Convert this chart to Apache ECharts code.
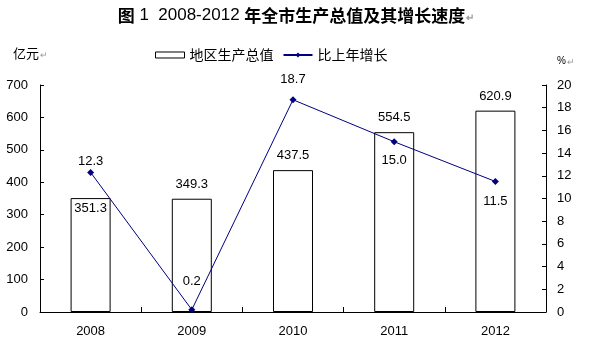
<!DOCTYPE html>
<html>
<head>
<meta charset="utf-8">
<script src="https://cdn.jsdelivr.net/npm/echarts@6/dist/echarts.min.js"></script>
<style>
  html, body { margin: 0; padding: 0; background: #fff; }
  #chart { width: 592px; height: 350px; }
</style>
</head>
<body>
<div id="chart"></div>
<script>
// Years on the category axis
const years = ['2008', '2009', '2010', '2011', '2012'];
// Regional GDP, 100 million yuan
const gdp = [351.3, 349.3, 437.5, 554.5, 620.9];
// Growth over previous year, %
const growth = [12.3, 0.2, 18.7, 15.0, 11.5];
// Value-axis ranges
const gdpAxis = { min: 0, max: 700, interval: 100 };
const growthAxis = { min: 0, max: 20, interval: 2 };

const NUM_FONT = '"Liberation Sans", Arial, sans-serif';
const CJK_FONT = '"Noto Sans CJK SC", sans-serif';
const NAVY = '#000080';

// Label placement for each bar / point
const barLabelPlace = [
  { position: 'insideTop', distance: 4 },
  { position: 'top', distance: 8 },
  { position: 'top', distance: 8 },
  { position: 'top', distance: 8 },
  { position: 'top', distance: 8 }
];
const lineLabelPlace = [
  { position: 'top', distance: 1 },
  { position: 'top', distance: 18 },
  { position: 'top', distance: 10 },
  { position: 'bottom', distance: 9 },
  { position: 'bottom', distance: 10 }
];

const chart = echarts.init(document.getElementById('chart'), null, { renderer: 'canvas' });

const axisCommon = {
  axisLine: { show: true, lineStyle: { color: '#000', width: 1 } },
  axisTick: { show: true, inside: true, length: 4, lineStyle: { color: '#000' } },
  splitLine: { show: false },
  axisLabel: { color: '#000', fontSize: 13, fontFamily: NUM_FONT, margin: 12 }
};

chart.setOption({
  animation: false,
  backgroundColor: '#fff',
  title: {
    left: 'center',
    top: 2,
    text: '{a|图}{b| 1  2008-2012 }{a|年全市生产总值及其增长速度}{c|↵}',
    textStyle: {
      rich: {
        a: { fontFamily: CJK_FONT, fontWeight: 'bold', fontSize: 17, color: '#000' },
        b: { fontFamily: NUM_FONT, fontWeight: 'normal', fontSize: 17, color: '#000' },
        c: { fontFamily: CJK_FONT, fontSize: 10, color: '#999', padding: [4, 0, 0, 1] }
      }
    }
  },
  legend: {
    left: 150,
    top: 43,
    itemWidth: 29,
    itemHeight: 6,
    itemGap: 9,
    textStyle: { fontFamily: CJK_FONT, fontSize: 14, color: '#000' },
    data: [
      { name: '地区生产总值', icon: 'rect', itemStyle: { color: '#fff', borderColor: '#000', borderWidth: 1 } },
      { name: '比上年增长' }
    ]
  },
  graphic: [
    {
      type: 'text', left: 13, top: 47,
      style: {
        text: '{a|亿元}{c|↵}',
        rich: {
          a: { fontFamily: CJK_FONT, fontSize: 13, fill: '#000' },
          c: { fontFamily: CJK_FONT, fontSize: 9, fill: '#999', padding: [3, 0, 0, 1] }
        }
      }
    },
    {
      type: 'text', left: 557, top: 56,
      style: {
        text: '{a|%}{c|↵}',
        rich: {
          a: { fontFamily: NUM_FONT, fontSize: 10, fill: '#000' },
          c: { fontFamily: CJK_FONT, fontSize: 9, fill: '#999', padding: [2, 0, 0, 1] }
        }
      }
    }
  ],
  grid: { left: 40, right: 46, top: 85, bottom: 38, containLabel: false },
  xAxis: {
    type: 'category',
    data: years,
    boundaryGap: true,
    z: 3,
    axisLine: { show: true, lineStyle: { color: '#000', width: 1 } },
    axisTick: { show: true, inside: true, length: 5, lineStyle: { color: '#000' } },
    axisLabel: { color: '#000', fontSize: 13, fontFamily: NUM_FONT, margin: 13 }
  },
  yAxis: [
    Object.assign({ type: 'value', position: 'left' }, gdpAxis, axisCommon),
    Object.assign({ type: 'value', position: 'right' }, growthAxis, axisCommon, {
      axisLabel: { color: '#000', fontSize: 13, fontFamily: NUM_FONT, margin: 11 }
    })
  ],
  series: [
    {
      name: '地区生产总值',
      type: 'bar',
      yAxisIndex: 0,
      barWidth: 40,
      itemStyle: { color: '#fff', borderColor: '#000', borderWidth: 1 },
      data: gdp.map((v, i) => ({
        value: v,
        label: Object.assign({
          show: true,
          color: '#000',
          fontSize: 13,
          fontFamily: NUM_FONT,
          formatter: (p) => p.value.toFixed(1)
        }, barLabelPlace[i])
      }))
    },
    {
      name: '比上年增长',
      type: 'line',
      yAxisIndex: 1,
      z: 5,
      symbol: 'diamond',
      symbolSize: 7,
      itemStyle: { color: NAVY },
      lineStyle: { color: NAVY, width: 1 },
      data: growth.map((v, i) => ({
        value: v,
        label: Object.assign({
          show: true,
          color: '#000',
          fontSize: 13,
          fontFamily: NUM_FONT,
          formatter: (p) => p.value.toFixed(1)
        }, lineLabelPlace[i])
      }))
    }
  ]
});
</script>
</body>
</html>
